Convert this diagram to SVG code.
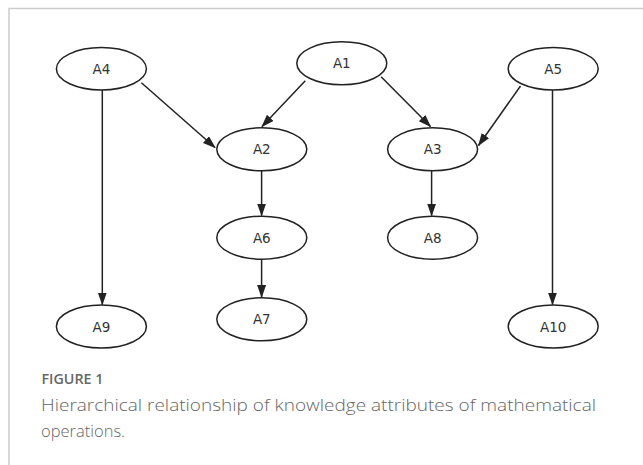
<svg xmlns="http://www.w3.org/2000/svg" width="643" height="465" viewBox="0 0 643 465">
<style>
.node ellipse{fill:#fff;stroke:#222;stroke-width:1.5}
.node text{font-family:"DejaVu Sans",Verdana,sans-serif;font-size:13.5px;fill:#333;text-anchor:middle}
.edge{stroke:#222;stroke-width:1.5;fill:none;marker-end:url(#arr)}
.cap{font-family:"Open Sans","Liberation Sans",sans-serif;fill:#666}
</style>
<defs>
<marker id="arr" markerUnits="userSpaceOnUse" markerWidth="13" markerHeight="10" refX="12" refY="4.5" orient="auto">
<path d="M0,0 L13,4.5 L0,9 z" fill="#222"/>
</marker>
</defs>
<rect x="0" y="0" width="643" height="465" fill="#fff"/>
<path d="M9,480 V8.5 H660" fill="none" stroke="#ccc" stroke-width="1.5"/>
<g id="connectors">
<line class="edge" x1="141.4" y1="82.7" x2="215" y2="147.5"/>
<line class="edge" x1="305.3" y1="80.7" x2="262" y2="126.5"/>
<line class="edge" x1="381.1" y1="76.7" x2="430.5" y2="126.5"/>
<line class="edge" x1="520.5" y1="86" x2="478.5" y2="145.5"/>
<line class="edge" x1="102.3" y1="90" x2="102.3" y2="304.5"/>
<line class="edge" x1="552.5" y1="90" x2="552.5" y2="304.5"/>
<line class="edge" x1="261.6" y1="171" x2="261.6" y2="215.5"/>
<line class="edge" x1="431.6" y1="171" x2="431.6" y2="215.5"/>
<line class="edge" x1="261.6" y1="259.3" x2="261.6" y2="297"/>
</g>
<g id="A4" class="node"><ellipse cx="101.4" cy="68.8" rx="45" ry="21.2"/><text x="101.4" y="73.8">A4</text></g>
<g id="A1" class="node"><ellipse cx="341.8" cy="63.3" rx="45" ry="21.5"/><text x="341.8" y="68.3">A1</text></g>
<g id="A5" class="node"><ellipse cx="553.2" cy="68.8" rx="45" ry="21.2"/><text x="553.2" y="73.8">A5</text></g>
<g id="A2" class="node"><ellipse cx="261.8" cy="149.3" rx="45" ry="21.5"/><text x="261.8" y="154.3">A2</text></g>
<g id="A3" class="node"><ellipse cx="432.6" cy="149.3" rx="45" ry="21.5"/><text x="432.6" y="154.3">A3</text></g>
<g id="A6" class="node"><ellipse cx="261.8" cy="237.7" rx="45" ry="21.5"/><text x="261.8" y="242.7">A6</text></g>
<g id="A8" class="node"><ellipse cx="432.6" cy="237.7" rx="45" ry="21.5"/><text x="432.6" y="242.7">A8</text></g>
<g id="A7" class="node"><ellipse cx="261.8" cy="319.3" rx="45" ry="21.5"/><text x="261.8" y="324.3">A7</text></g>
<g id="A9" class="node"><ellipse cx="101.4" cy="326.5" rx="45" ry="21.5"/><text x="101.4" y="331.5">A9</text></g>
<g id="A10" class="node"><ellipse cx="553.2" cy="326.5" rx="45" ry="21.5"/><text x="553.2" y="331.5">A10</text></g>
<text class="cap" x="41.5" y="384" font-size="13.5" font-weight="600" fill="#555" textLength="62" lengthAdjust="spacingAndGlyphs">FIGURE 1</text>
<text class="cap" x="41" y="410.5" font-size="16.5" font-weight="300" textLength="555" lengthAdjust="spacingAndGlyphs">Hierarchical relationship of knowledge attributes of mathematical</text>
<text class="cap" x="41" y="437" font-size="16.5" font-weight="300">operations.</text>
</svg>
